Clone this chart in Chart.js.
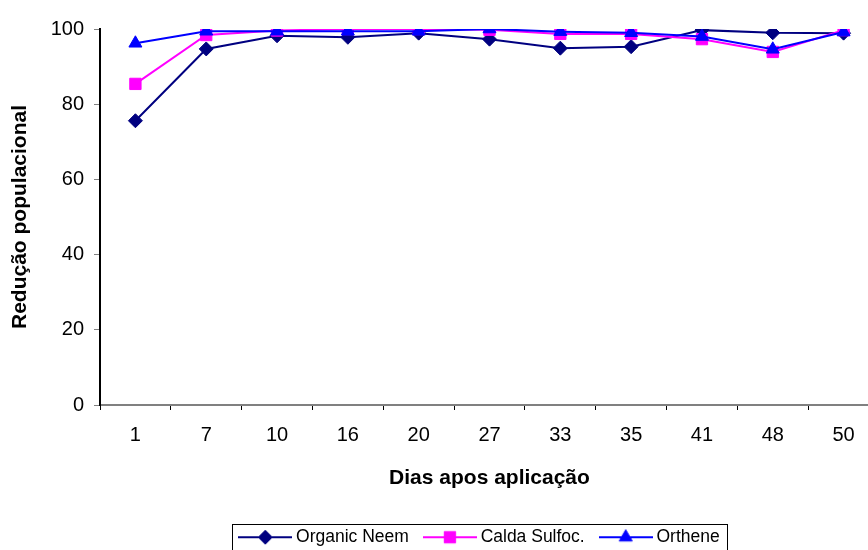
<!DOCTYPE html>
<html><head><meta charset="utf-8">
<script src="https://cdn.jsdelivr.net/npm/chart.js@4.4.0/dist/chart.umd.min.js"></script>
<style>
html,body{margin:0;padding:0;background:#fff;overflow:hidden;}
#wrap{width:868px;height:550px;overflow:hidden;position:relative;background:#fff;}
#c{position:absolute;left:0;top:0;width:963px;height:556px;}
</style></head><body>
<div id="wrap"><canvas id="c" width="963" height="556"></canvas></div>
<script>
const categories = ['1','7','10','16','20','27','33','35','41','48','50'];
const neem    = [75.6, 94.7, 98.2, 97.8, 98.9, 97.3, 94.9, 95.3, 99.7, 99.0, 98.9];
const calda   = [85.4, 98.4, 99.6, 100, 100, 99.8, 98.7, 98.7, 97.3, 93.9, 99.7];
const orthene = [96.2, 99.4, 99.4, 99.4, 99.4, 100, 99.3, 99.0, 98.0, 94.6, 99.2];
const seriesNames = ['Organic Neem', 'Calda Sulfoc.', 'Orthene'];
const yTicks = [0, 20, 40, 60, 80, 100];

const FONT = '"Liberation Sans", Arial, sans-serif';
Chart.defaults.color = '#000';
Chart.defaults.font.family = FONT;

const styles = [
  {color:'#000080', pointStyle:'rectRot', radius:7},
  {color:'#FF00FF', pointStyle:'rect', radius:8},
  {color:'#0000FF', pointStyle:'triangle', radius:7.5}
];

function legendIcon(s){
  const cv = document.createElement('canvas');
  cv.width = 54; cv.height = 20;
  const ctx = cv.getContext('2d');
  ctx.strokeStyle = s.color; ctx.lineWidth = 2;
  ctx.beginPath(); ctx.moveTo(0,10); ctx.lineTo(54,10); ctx.stroke();
  ctx.fillStyle = s.color; ctx.lineWidth = 1;
  Chart.helpers.drawPoint(ctx, {pointStyle:s.pointStyle, radius:s.radius, borderWidth:1, rotation:0}, 27, 10);
  return cv;
}
const icons = styles.map(legendIcon);

const legendBorder = {
  id:'legendBorder',
  afterDraw(chart){
    const lg = chart.legend;
    if(!lg || !lg.legendHitBoxes || !lg.legendHitBoxes.length) return;
    const hb = lg.legendHitBoxes;
    const l = hb[0].left - 11;
    const last = hb[hb.length-1];
    const r = last.left + last.width + 8;
    const top = hb[0].top - 5;
    const ctx = chart.ctx;
    ctx.save();
    ctx.strokeStyle = '#000'; ctx.lineWidth = 1;
    ctx.strokeRect(Math.round(l)+0.5, Math.round(top)+0.5, Math.round(r-l), 26);
    ctx.restore();
  }
};

const datasets = [neem, calda, orthene].map((d,i)=>({
  label: seriesNames[i],
  data: d,
  borderColor: styles[i].color,
  backgroundColor: styles[i].color,
  pointBackgroundColor: styles[i].color,
  pointBorderColor: styles[i].color,
  pointStyle: styles[i].pointStyle,
  pointRadius: styles[i].radius,
  pointHoverRadius: styles[i].radius,
  pointBorderWidth: 1,
  borderWidth: 2,
  tension: 0,
  fill: false,
  order: 3 - i
}));

new Chart(document.getElementById('c'), {
  type:'line',
  data:{labels:categories, datasets},
  options:{
    responsive:false,
    animation:false,
    devicePixelRatio:1,
    layout:{padding:{top:29,left:0,right:0,bottom:0}},
    plugins:{
      tooltip:{enabled:false},
      legend:{
        position:'bottom',
        labels:{
          font:{size:17.5, family:FONT},
          color:'#000',
          usePointStyle:true,
          pointStyleWidth:44,
          padding:19,
          sort:(a,b)=>a.datasetIndex-b.datasetIndex,
          generateLabels(chart){
            const items = Chart.defaults.plugins.legend.labels.generateLabels(chart);
            items.forEach(it=>{ it.pointStyle = icons[it.datasetIndex]; it.lineWidth = 0; });
            return items;
          }
        }
      }
    },
    scales:{
      x:{
        type:'category',
        offset:true,
        grid:{display:true, offset:true, drawOnChartArea:false, drawTicks:true, tickLength:5, color:'#000', lineWidth:1},
        border:{display:true, color:'#808080', width:2},
        ticks:{font:{size:20}, color:'#000', padding:13, maxRotation:0, autoSkip:false},
        title:{display:true, text:'Dias apos aplicação', font:{size:21, weight:'bold'}, color:'#000', padding:{top:18.4, bottom:18.9}},
        afterFit(s){ s.height = 104.5; }
      },
      y:{
        min:0, max:100,
        afterBuildTicks(s){ s.ticks = yTicks.map(v=>({value:v})); },
        grid:{display:true, drawOnChartArea:false, drawTicks:true, tickLength:6, color:'#808080', lineWidth:1},
        border:{display:true, color:'#000', width:2},
        ticks:{font:{size:20}, color:'#000', padding:10},
        title:{display:true, text:'Redução populacional', font:{size:21, weight:'bold'}, color:'#000', padding:{top:7.4, bottom:18}},
        afterFit(s){ s.width = 100; }
      },
      yR:{
        type:'linear',
        position:'right',
        display:true,
        grid:{display:false, drawTicks:false},
        border:{display:false},
        ticks:{display:false},
        afterFit(s){ s.width = 84; }
      }
    }
  },
  plugins:[legendBorder]
});
</script>
</body></html>
